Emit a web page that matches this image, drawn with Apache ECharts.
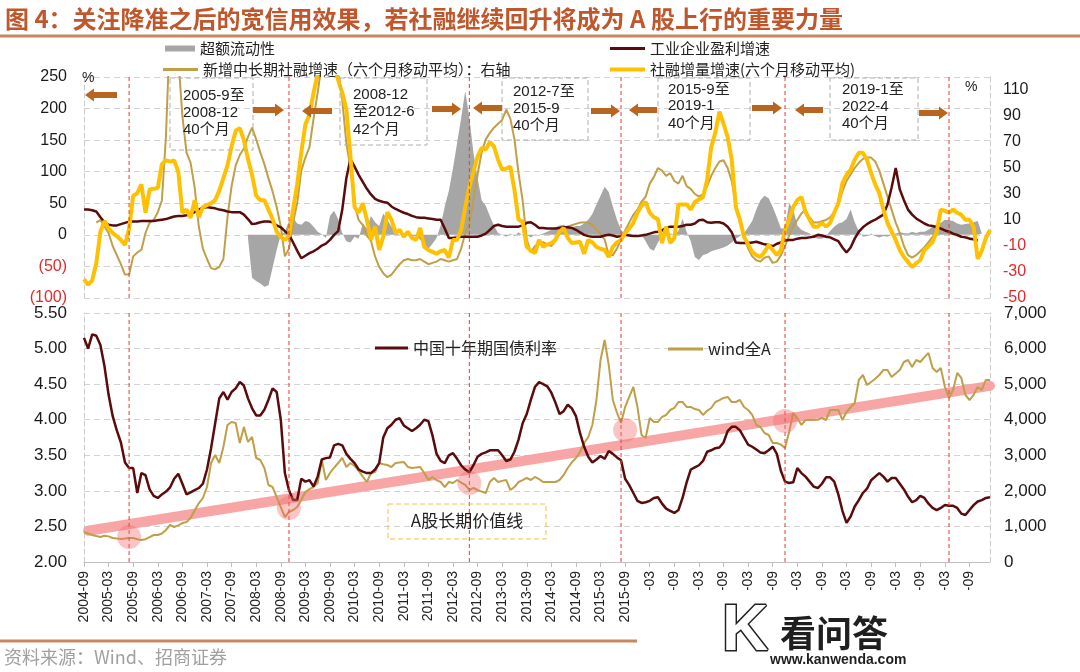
<!DOCTYPE html>
<html><head><meta charset="utf-8">
<script src="https://cdn.jsdelivr.net/npm/echarts@6/dist/echarts.min.js"></script>
<style>html,body{margin:0;padding:0;background:#fff}#c{width:1080px;height:672px}</style>
</head><body><div id="c"></div>
<script>
// ---- categories: monthly, 2004-09 .. 2023-02 ----
const months = [];
for (let i = 0; i < 222; i++) { const m = 8 + i; months.push((2004 + Math.floor(m / 12)) + '-' + String(m % 12 + 1).padStart(2, '0')); }

// ---- top panel (left axis %) ----
const excessLiquidity = [
 null,null,null,null,null,null,null,null,null,null,
 null,null,null,null,null,null,null,null,null,null,
 null,null,null,null,null,null,null,null,null,null,
 null,null,null,null,null,null,null,null,null,null,
 -5,-68,-73,-77,-82,-80,-52,-24,0,5,
 22,27,18,16,22,20,13,5,1,-5,
 30,38,25,3,-10,-12,-3,-6,18,10,
 30,20,14,34,24,13,5,0,3,1,
 -3,-2,-8,-14,-22,-14,-5,15,45,70,
 105,145,185,228,185,130,90,55,46,30,
 15,3,0,-3,2,-2,4,-1,0,-4,
 1,0,2,5,8,12,15,16,12,12,
 14,14,18,24,33,48,62,76,68,45,
 24,8,0,2,1,-2,0,-10,-22,-25,
 -12,-2,3,2,0,6,26,5,-10,-35,
 -40,-32,-30,-26,-24,-22,-20,-17,-12,-6,
 -2,2,12,22,40,55,62,58,44,28,
 10,10,50,40,15,8,5,2,-3,-6,
 -6,-2,6,13,18,20,25,40,20,6,
 -3,-2,2,-2,-4,-2,-3,0,2,4,
 3,2,5,3,5,5,8,13,17,19,
 24,23,22,18,16,17,18,20,22,2,
 null,null
];
const profitGrowth = [
 40,40,39,37,28,20,16,15,15,17,
 19,21,21,21,22,22,22,22,23,24,
 25,27,29,30,30,31,33,36,40,43,
 44,43,42,40,39,37,36,36,36,32,
 25,17,18,20,21,21,20,15,12,6,
 0,-12,-25,-37,-33,-29,-26,-22,-17,-14,
 -8,0,6,40,90,120,108,95,84,73,
 64,57,54,52,51,45,41,38,35,33,
 30,28,27,27,26,25,24,24,10,-5,
 -5,-4,-3,-3,-3,-3,-3,-1,2,8,
 14,16,14,13,13,13,13,15,19,20,
 16,11,11,10,10,10,11,12,12,11,
 8,4,0,-2,-3,-3,-3,-1,0,-1,
 -3,-2,0,-1,-2,-2,-1,0,2,4,
 5,7,11,13,13,13,14,16,16,18,
 23,24,20,19,20,20,18,13,4,-12,
 -13,-13,-13,-12,-11,-13,-15,-16,-18,-14,
 -12,-9,-8,-8,-6,-5,-5,-4,-3,0,
 -1,-3,-4,-7,-10,-20,-28,-20,-6,5,
 12,17,21,24,28,32,48,75,106,72,
 55,40,32,26,22,18,15,14,12,10,
 7,5,2,0,-3,-4,-6,-7,-9,null,
 null,null
];
const tsfIncrementGrowth = [
 -70,-79,-72,-45,5,22,10,3,-2,-8,
 -16,10,62,66,80,35,72,73,74,112,
 118,116,118,100,35,40,27,55,28,44,
 47,50,55,70,90,110,140,165,169,150,
 120,95,62,55,55,40,25,5,-3,-8,
 -2,40,80,130,175,190,225,255,270,255,
 255,275,245,225,198,124,44,35,50,24,
 -8,13,-24,-3,36,24,3,8,-3,5,
 -5,-8,11,-19,-24,-27,-30,-26,-24,-36,
 -8,-8,8,44,76,100,124,138,135,147,
 140,119,103,105,108,71,24,21,-19,-25,
 -29,-8,-19,-15,-13,-8,5,11,-5,-13,
 -12,-11,-30,-8,-12,-19,-22,-24,-35,-19,
 -12,-8,3,10,19,35,46,52,35,28,
 25,-13,13,-13,-5,48,48,48,40,52,
 56,60,87,139,162,195,176,155,119,44,
 24,-3,-15,-27,-32,-35,-27,-16,-24,-32,
 -24,8,24,44,55,60,36,24,13,13,
 19,13,19,35,50,82,95,103,119,130,
 130,119,98,80,66,40,19,5,-8,-24,
 -35,-43,-51,-45,-40,-24,-18,-11,5,40,
 38,35,40,35,32,24,24,13,-38,-25,
 -5,8
];
// right axis %
const midLongTsfGrowth = [
 null,null,null,8,10,5,0,-10,-17,-24,
 -32,-32,-18,-15,-13,0,8,10,16,25,
 75,160,170,135,90,62,54,35,5,-12,
 -20,-27,-28,-26,-20,12,36,52,60,65,
 74,81,72,62,53,42,32,20,5,-18,
 -12,8,23,48,58,66,88,108,130,140,
 140,135,125,102,69,50,22,10,6,-2,
 -6,-18,-26,-31,-34,-32,-28,-24,-21,-20,
 -21,-21,-20,-22,-24,-23,-22,-20,-21,-22,
 -21,-20,-12,0,7,25,45,62,72,77,
 81,84,87,95,88,72,46,25,-5,-15,
 -10,-8,-7,-9,-10,-6,0,4,5,6,
 7,8,8,8,6,3,-1,-5,-17,-17,
 -12,-5,2,8,14,18,24,28,38,43,
 50,48,44,46,40,38,44,36,34,30,
 28,30,36,44,50,55,56,50,40,22,
 8,-3,-12,-18,-21,-22,-19,-18,-23,-22,
 -17,-10,-2,5,10,15,18,12,8,8,
 9,10,12,16,22,32,40,45,50,54,
 57,58,58,55,48,38,28,18,8,0,
 -10,-17,-19,-17,-14,-11,-7,-3,2,5,
 2,0,-1,-2,-3,-3,-4,-5,-6,null,
 null,null
];

// ---- bottom panel ----
const cgb10y = [
 5.15,5.00,5.20,5.18,5.05,4.75,4.35,4.05,3.85,3.68,
 3.40,3.32,3.32,2.97,3.25,3.22,3.02,2.93,2.90,2.95,
 2.99,3.05,3.17,3.24,3.10,2.95,2.98,3.01,3.04,3.10,
 3.30,3.60,3.95,4.30,4.39,4.28,4.39,4.44,4.53,4.48,
 4.30,4.16,4.06,4.06,4.14,4.28,4.44,4.39,4.00,3.25,
 3.01,2.87,2.87,3.17,3.13,3.15,3.06,3.20,3.44,3.46,
 3.47,3.64,3.66,3.64,3.52,3.45,3.39,3.30,3.27,3.25,
 3.25,3.30,3.39,3.75,3.88,3.93,4.00,4.02,3.92,3.88,
 3.84,3.88,3.93,4.00,3.98,3.78,3.52,3.42,3.39,3.50,
 3.53,3.45,3.36,3.30,3.26,3.36,3.48,3.52,3.54,3.57,
 3.57,3.57,3.50,3.42,3.44,3.55,3.72,3.95,4.08,4.28,
 4.46,4.53,4.50,4.47,4.38,4.24,4.08,4.12,4.21,4.16,
 4.05,3.81,3.62,3.48,3.40,3.44,3.49,3.45,3.56,3.52,
 3.47,3.43,3.17,3.08,2.97,2.86,2.83,2.84,2.86,2.90,
 2.91,2.82,2.75,2.72,2.69,2.73,2.90,3.12,3.30,3.33,
 3.36,3.42,3.55,3.57,3.60,3.61,3.68,3.84,3.90,3.90,
 3.85,3.75,3.65,3.62,3.58,3.54,3.53,3.57,3.62,3.52,
 3.28,3.13,3.11,3.12,3.32,3.25,3.20,3.13,3.06,3.04,
 3.10,3.19,3.19,3.13,2.95,2.72,2.55,2.64,2.78,2.87,
 2.97,3.03,3.15,3.20,3.25,3.20,3.13,3.18,3.18,3.10,
 3.02,2.92,2.84,2.87,2.93,2.90,2.82,2.76,2.73,2.76,
 2.80,2.79,2.79,2.76,2.68,2.66,2.73,2.80,2.85,2.87,
 2.90,2.91
];
const windA = [
 843,800,759,730,703,740,720,675,660,647,
 660,675,675,640,618,640,700,759,759,800,
 900,1040,984,1030,1096,1125,1237,1450,1650,1799,
 2108,2783,3008,2783,3233,3850,3936,3908,3346,3795,
 3374,3514,2924,2868,2643,2165,2108,1827,1546,1265,
 1406,1462,1546,1743,1968,2050,2108,2221,2868,2305,
 2502,2650,2783,2924,2671,2783,2700,2560,2400,2249,
 2502,2530,2783,2750,2727,2671,2783,2800,2811,2671,
 2643,2660,2671,2502,2305,2390,2300,2249,2108,2249,
 2221,2305,2230,2165,2024,2080,2024,1980,1940,2249,
 2362,2249,2280,2305,2024,2108,2249,2300,2362,2305,
 2390,2330,2249,2249,2249,2249,2305,2446,2643,2800,
 2924,3092,3346,3514,3852,4554,5679,6241,5538,4554,
 4200,3908,4358,4639,4920,4358,3570,3486,4048,3936,
 3936,4077,4133,4273,4330,4498,4498,4358,4358,4300,
 4273,4133,4250,4330,4498,4550,4611,4639,4498,4498,
 4554,4358,4273,4133,3852,3795,3627,3570,3346,3346,
 3300,3205,3655,4189,4048,3852,3992,3992,3992,4000,
 4048,3992,4273,4273,4273,3992,4217,4350,4470,5117,
 5257,4976,5060,5150,5257,5398,5398,5201,5300,5398,
 5623,5679,5482,5679,5623,5760,5876,5454,5342,5454,
 4920,4611,4836,5314,5173,4695,4554,4700,4920,4836,
 5117,5117
];
// long-term value line (two end points) and touch points, right axis
const valueLineMonths = ['2004-10', '2023-02'];
const valueLineLevels = [880, 4950];
const touchMonths = ['2005-08', '2008-11', '2012-07', '2015-09', '2018-12'];
const touchLevels = [703, 1518, 2221, 3711, 3964];
// cycle boundaries (red dashed)
const cycleMonths = ['2005-08', '2008-11', '2012-07', '2015-08', '2018-12', '2022-04'];
const cycleBoxes = [
  ['2005-9至', '2008-12', '40个月'],
  ['2008-12', '至2012-6', '42个月'],
  ['2012-7至', '2015-9', '40个月'],
  ['2015-9至', '2019-1', '40个月'],
  ['2019-1至', '2022-4', '40个月']
];

const CJK = '"Noto Sans CJK SC", sans-serif';
const NUM = '"Liberation Sans", Arial, "Noto Sans CJK SC", sans-serif';
const DARKRED = '#5a0b0b', GOLD = '#bf9f4a', YELLOW = '#ffc000', GRAY = '#a6a6a6';
const ARROW = '#b8661f', REDDASH = '#ec3b30';

const chart = echarts.init(document.getElementById('c'), null, { renderer: 'canvas' });

function arrow(x1, x2, y, dir) {
  const hl = 9, sw = 3, hw = 6.5;
  let pts;
  if (dir === 'r') pts = [[x1, y - sw], [x2 - hl, y - sw], [x2 - hl, y - hw], [x2, y], [x2 - hl, y + hw], [x2 - hl, y + sw], [x1, y + sw]];
  else pts = [[x2, y - sw], [x1 + hl, y - sw], [x1 + hl, y - hw], [x1, y], [x1 + hl, y + hw], [x1 + hl, y + sw], [x2, y + sw]];
  return { type: 'polygon', shape: { points: pts }, style: { fill: ARROW }, z: 50 };
}
function txt(t, x, y, size, opts) {
  const o = Object.assign({ fill: '#222', family: CJK, weight: 'normal', align: 'left', v: 'middle' }, opts || {});
  return { type: 'text', z: 60, style: { text: t, x: x, y: y, fill: o.fill, fontSize: size, fontFamily: o.family, fontWeight: o.weight,
    align: o.align, verticalAlign: o.v, textAlign: o.align, textVerticalAlign: o.v } };
}
function box(x, y, w, h, color) {
  return { type: 'rect', z: 40, shape: { x: x, y: y, width: w, height: h }, style: { fill: 'none', stroke: color, lineWidth: 1, lineDash: [5, 3] } };
}

const boxGeom = [
  { x: 170, w: 83, h: 72, tx: 183, ty: [96, 113, 130] },
  { x: 340, w: 87, h: 67, tx: 353, ty: [95, 112, 130] },
  { x: 502, w: 86, h: 62, tx: 513, ty: [92, 109, 126] },
  { x: 658, w: 92, h: 62, tx: 668, ty: [90, 106, 124] },
  { x: 830, w: 88, h: 62, tx: 842, ty: [90, 107, 124] }
];
const graphics = [];
graphics.push(txt('图 4：关注降准之后的宽信用效果，若社融继续回升将成为 A 股上行的重要力量', 5, 19, 24, { fill: '#c0562b', weight: 'bold' }));
graphics.push({ type: 'line', z: 10, shape: { x1: 0, y1: 36, x2: 1080, y2: 36 }, style: { stroke: '#c9875f', lineWidth: 3 } });
graphics.push({ type: 'line', z: 10, shape: { x1: 0, y1: 641, x2: 1080, y2: 641 }, style: { stroke: '#c9875f', lineWidth: 3 } });
graphics.push(txt('资料来源：Wind、招商证券', 4, 657, 18, { fill: '#a0a0a0' }));
graphics.push(txt('%', 82, 78, 14, { family: NUM }));
graphics.push(txt('%', 965, 87, 14, { family: NUM }));
cycleBoxes.forEach((lines, k) => {
  const g = boxGeom[k];
  graphics.push(box(g.x, 78, g.w, g.h, '#b0b0b0'));
  lines.forEach((s, j) => graphics.push(txt(s, g.tx, g.ty[j], 15, { family: NUM })));
});
[[85, 117, 95, 'l'], [253, 284, 110, 'r'], [302, 332, 111, 'l'], [432, 461, 109, 'r'], [473, 502, 108, 'l'],
 [591, 620, 111, 'r'], [629, 657, 110, 'l'], [752, 782, 108, 'r'], [795, 823, 110, 'l'], [919, 948, 113, 'r']]
  .forEach(a => graphics.push(arrow(a[0], a[1], a[2], a[3])));
graphics.push(box(388, 504, 158, 35, '#f2c440'));
graphics.push(txt('A股长期价值线', 467, 521, 17, { align: 'center' }));
// watermark overlay
graphics.push({ type: 'rect', z: 100, shape: { x: 637, y: 590, width: 443, height: 82 }, style: { fill: '#fff' } });
graphics.push({ type: 'text', z: 101, style: { text: 'K', x: 722, y: 600, fontSize: 64, fontWeight: 'bold', fontFamily: NUM, fill: '#fff', stroke: '#222', lineWidth: 3 } });
graphics.push(Object.assign(txt('看问答', 780, 633, 36, { fill: '#1f1f1f', weight: 'bold' }), { z: 101 }));
graphics.push(Object.assign(txt('www.kanwenda.com', 770, 660, 14, { fill: '#1f1f1f', weight: 'bold', family: NUM }), { z: 101 }));

function legendAt(name, left, top, w, h, size) {
  return { data: [name], left: left, top: top, itemWidth: w, itemHeight: h, icon: 'rect', selectedMode: false,
    padding: 0, textStyle: { fontSize: size, fontFamily: CJK, color: '#222' } };
}

// red dashed cycle boundaries, drawn as vertical line series through the axes
function boundarySeries(xi, yi, lo, hi) {
  return cycleMonths.map((m, k) => ({
    name: 'cycle' + xi + '_' + k, type: 'line', xAxisIndex: xi, yAxisIndex: yi, silent: true,
    data: [[m, lo], [m, hi]], symbol: 'none', z: 6,
    lineStyle: { color: REDDASH, width: 1, type: [4, 3] }, itemStyle: { color: REDDASH }
  }));
}

const option = {
  animation: false,
  backgroundColor: '#ffffff',
  graphic: graphics,
  legend: [
    legendAt('超额流动性', 165, 41, 30, 6, 15),
    legendAt('新增中长期社融增速（六个月移动平均）：右轴', 163, 62, 35, 3, 15),
    legendAt('工业企业盈利增速', 610, 41, 35, 3, 15),
    legendAt('社融增量增速(六个月移动平均)', 610, 62, 35, 4, 15),
    legendAt('中国十年期国债利率', 375, 340, 33, 3, 16),
    legendAt('wind全A', 668, 341, 35, 3, 16)
  ],
  grid: [
    { left: 84, right: 90, top: 77, height: 221 },
    { left: 84, right: 90, top: 313, height: 249 }
  ],
  xAxis: [
    { gridIndex: 0, type: 'category', data: months, boundaryGap: false,
      axisLine: { show: false }, axisTick: { show: false }, axisLabel: { show: false }, splitLine: { show: false } },
    { gridIndex: 1, type: 'category', data: months, boundaryGap: false,
      axisLine: { show: true, lineStyle: { color: '#bfbfbf' } },
      axisTick: { show: true, interval: 5, length: 5, lineStyle: { color: '#bfbfbf' } },
      axisLabel: { interval: 5, rotate: 90, fontSize: 14, color: '#222', fontFamily: NUM, margin: 9 },
      splitLine: { show: false } }
  ],
  yAxis: [
    { gridIndex: 0, type: 'value', min: -100, max: 250, interval: 50,
      axisLine: { show: true, lineStyle: { color: '#cccccc', type: [5, 3] } }, axisTick: { show: false },
      splitLine: { show: true, lineStyle: { color: '#d2d2d2', type: [6, 4] } },
      axisLabel: { fontSize: 16, fontFamily: NUM, color: '#1a1a1a', margin: 17,
        formatter: v => v < 0 ? '{r|(' + (-v) + ')}' : String(v),
        rich: { r: { color: '#e02a2a', fontSize: 16, fontFamily: NUM } } } },
    { gridIndex: 0, type: 'value', position: 'right', min: -50, max: 120, interval: 20,
      axisLine: { show: true, lineStyle: { color: '#cccccc', type: [5, 3] } }, axisTick: { show: false },
      splitLine: { show: false },
      axisLabel: { fontSize: 16, fontFamily: NUM, color: '#1a1a1a', margin: 13, showMaxLabel: false,
        formatter: v => v > 110 ? '' : (v < 0 ? '{r|' + v + '}' : String(v)),
        rich: { r: { color: '#e02a2a', fontSize: 16, fontFamily: NUM } } } },
    { gridIndex: 1, type: 'value', min: 2, max: 5.5, interval: 0.5,
      axisLine: { show: true, lineStyle: { color: '#cccccc', type: [5, 3] } }, axisTick: { show: false },
      splitLine: { show: true, lineStyle: { color: '#d2d2d2', type: [6, 4] } },
      axisLabel: { fontSize: 17, fontFamily: NUM, color: '#1a1a1a', margin: 17, formatter: v => v.toFixed(2) } },
    { gridIndex: 1, type: 'value', position: 'right', min: 0, max: 7000, interval: 1000,
      axisLine: { show: true, lineStyle: { color: '#cccccc', type: [5, 3] } }, axisTick: { show: false },
      splitLine: { show: false },
      axisLabel: { fontSize: 17, fontFamily: NUM, color: '#1a1a1a', margin: 14, formatter: v => v.toLocaleString('en-US') } }
  ],
  series: [
    { name: '超额流动性', type: 'line', xAxisIndex: 0, yAxisIndex: 0, data: excessLiquidity, symbol: 'none',
      lineStyle: { width: 0, color: GRAY }, itemStyle: { color: GRAY }, areaStyle: { color: GRAY, opacity: 1 }, z: 2 },
    { name: '新增中长期社融增速（六个月移动平均）：右轴', type: 'line', xAxisIndex: 0, yAxisIndex: 1, data: midLongTsfGrowth,
      symbol: 'none', lineStyle: { color: GOLD, width: 2 }, itemStyle: { color: GOLD }, z: 3 },
    { name: '工业企业盈利增速', type: 'line', xAxisIndex: 0, yAxisIndex: 0, data: profitGrowth,
      symbol: 'none', lineStyle: { color: DARKRED, width: 2.5 }, itemStyle: { color: DARKRED }, z: 4 },
    { name: '社融增量增速(六个月移动平均)', type: 'line', xAxisIndex: 0, yAxisIndex: 0, data: tsfIncrementGrowth,
      symbol: 'none', lineStyle: { color: YELLOW, width: 4 }, itemStyle: { color: YELLOW }, z: 5 },
    ...boundarySeries(0, 0, -100, 250),

    { name: 'A股长期价值线', type: 'line', xAxisIndex: 1, yAxisIndex: 3, silent: true,
      data: valueLineMonths.map((m, k) => [m, valueLineLevels[k]]), symbol: 'none',
      lineStyle: { color: '#f7a0a0', width: 10, cap: 'round', opacity: 0.95 }, z: 2 },
    { name: 'wind全A', type: 'line', xAxisIndex: 1, yAxisIndex: 3, data: windA,
      symbol: 'none', lineStyle: { color: GOLD, width: 2 }, itemStyle: { color: GOLD }, z: 3 },
    { name: '中国十年期国债利率', type: 'line', xAxisIndex: 1, yAxisIndex: 2, data: cgb10y,
      symbol: 'none', lineStyle: { color: DARKRED, width: 2.5 }, itemStyle: { color: DARKRED }, z: 4 },
    ...boundarySeries(1, 2, 2, 5.5),
    { name: '触及点', type: 'scatter', xAxisIndex: 1, yAxisIndex: 3, silent: true,
      data: touchMonths.map((m, k) => [m, touchLevels[k]]), symbolSize: 24,
      itemStyle: { color: 'rgba(244,110,110,0.5)' }, z: 7 }
  ]
};
chart.setOption(option);
</script></body></html>
